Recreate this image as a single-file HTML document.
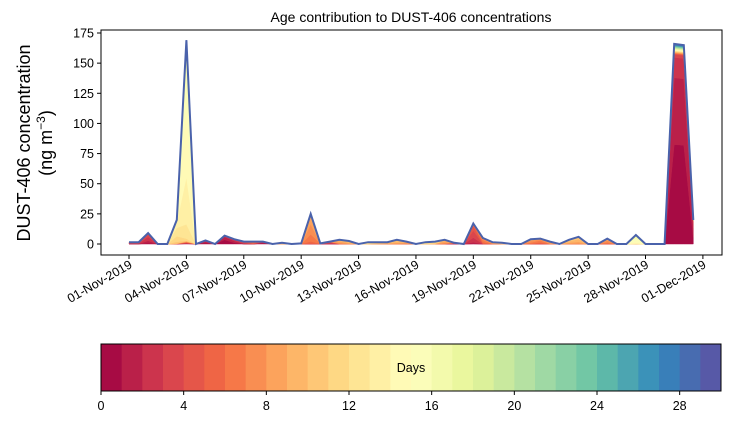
<!DOCTYPE html>
<html><head><meta charset="utf-8"><style>
body{margin:0;background:#fff;}
svg text{font-family:"Liberation Sans",sans-serif;fill:#000;}
</style></head><body>
<svg id="chart" width="730" height="425" xmlns="http://www.w3.org/2000/svg">
<text x="411" y="22" font-size="14" text-anchor="middle">Age contribution to DUST-406 concentrations</text>
<g id="plot"></g>
<rect x="101" y="30" width="621" height="225" fill="none" stroke="#000" stroke-width="1"/>
<g id="yaxis"></g>
<g id="xaxis"></g>
<text transform="translate(30,143) rotate(-90)" font-size="18" text-anchor="middle">DUST-406 concentration</text>
<text transform="translate(52,143) rotate(-90)" font-size="18" text-anchor="middle">(ng m<tspan font-size="12" dy="-7">−3</tspan><tspan dy="7">)</tspan></text>
<g id="cbar"></g>
</svg>
<script>
const totals=[1.5,1.5,9,0,0,20,169,0,3,0,7,4,2,2,2,0,1,0,0.5,25,0.5,2,3.5,2.5,0,1.5,1.5,1.5,3.5,2,0,1.5,2,3.5,1,0,17,5,1.5,1,0,0,4,4.5,2,0,3.5,6,0,0,4.5,0,0,7.5,0,0,0,166,165,20];
const meanAge=[3,3,2,0,0,12,14,8,1,10,0,1,3,5,1,10,10,10,10,7,5,3,8,9,10,12,10,9,9,8,10,12,11,8,3,5,3,6,8,10,10,10,7,6,8,10,9,9,9,9,7,9,9,15,9,9,9,0,0,1];
const xTickLabels=["01-Nov-2019","04-Nov-2019","07-Nov-2019","10-Nov-2019","13-Nov-2019","16-Nov-2019","19-Nov-2019","22-Nov-2019","25-Nov-2019","28-Nov-2019","01-Dec-2019"];
const xTickDays=[0,3,6,9,12,15,18,21,24,27,30];
const yTicks=[0,25,50,75,100,125,150,175];
const cbarTicks=[0,4,8,12,16,20,24,28];
const NS="http://www.w3.org/2000/svg";
const X=d=>129+d*19.13, Y=v=>244-v*1.2057;
const stops=["#9e0142","#d53e4f","#f46d43","#fdae61","#fee08b","#ffffbf","#e6f598","#abdda4","#66c2a5","#3288bd","#5e4fa2"];
function hex(c){return [1,3,5].map(i=>parseInt(c.substr(i,2),16));}
function spectral(t){const p=t*10,i=Math.min(9,Math.floor(p)),f=p-i;const a=hex(stops[i]),b=hex(stops[i+1]);return "rgb("+a.map((v,k)=>Math.round(v+(b[k]-v)*f)).join(",")+")";}
function mk(tag,attrs,parent){const e=document.createElementNS(NS,tag);for(const k in attrs)e.setAttribute(k,attrs[k]);parent.appendChild(e);return e;}
const plot=document.getElementById('plot');
const N=totals.length, L=30;
const weights=totals.map((t,i)=>{let w=[],s=0;for(let k=0;k<L;k++){const d=k-meanAge[i];let v=Math.exp(-d*d/2.5)+0.004;w.push(v);s+=v;}return w.map(v=>v/s*t);});
let base=new Array(N).fill(0);
for(let k=0;k<L;k++){
  const top=base.map((b,i)=>b+weights[i][k]);
  let pts=[];
  for(let i=0;i<N;i++)pts.push(X(i*0.5).toFixed(1)+","+Y(top[i]).toFixed(1));
  for(let i=N-1;i>=0;i--)pts.push(X(i*0.5).toFixed(1)+","+Y(base[i]).toFixed(1));
  const p=mk('polygon',{points:pts.join(" "),fill:spectral((k+0.5)/30),stroke:spectral((k+0.5)/30),'stroke-width':0.5},plot);
  
  
  base=top;
}
const line=mk('polyline',{points:totals.map((t,i)=>X(i*0.5).toFixed(1)+","+Y(t).toFixed(1)).join(" "),fill:"none",stroke:"#4a62ab","stroke-width":2},plot);


const ya=document.getElementById('yaxis');
yTicks.forEach(v=>{
  mk('line',{x1:97,x2:101,y1:Y(v),y2:Y(v),stroke:"#000"},ya);
  const t=mk('text',{x:94,y:Y(v)+4.5,'font-size':12.5,'text-anchor':'end'},ya);t.textContent=v;
  
  
});
const xa=document.getElementById('xaxis');
xTickDays.forEach((d,i)=>{
  const x=X(d);
  mk('line',{x1:x,x2:x,y1:255,y2:259,stroke:"#000"},xa);
  const t=mk('text',{transform:`translate(${x+4},${267}) rotate(-30)`,'font-size':12.5,'text-anchor':'end'},xa);t.textContent=xTickLabels[i];
  
  
});
const cb=document.getElementById('cbar');
const cw=620/30;
for(let k=0;k<30;k++){const r=mk('rect',{x:101+k*cw,y:344,width:cw+0.5,height:47,fill:spectral((k+0.5)/30)},cb);
  
  }
mk('rect',{x:101,y:344,width:620,height:47,fill:"none",stroke:"#000"},cb);
cbarTicks.forEach(v=>{const x=101+v*cw;mk('line',{x1:x,x2:x,y1:391,y2:395,stroke:"#000"},cb);
  const t=mk('text',{x:x,y:410,'font-size':12.5,'text-anchor':'middle'},cb);t.textContent=v;
  
  });
const dl=mk('text',{x:411,y:372,'font-size':12.5,'text-anchor':'middle'},cb);dl.textContent="Days";


</script>
</body></html>
